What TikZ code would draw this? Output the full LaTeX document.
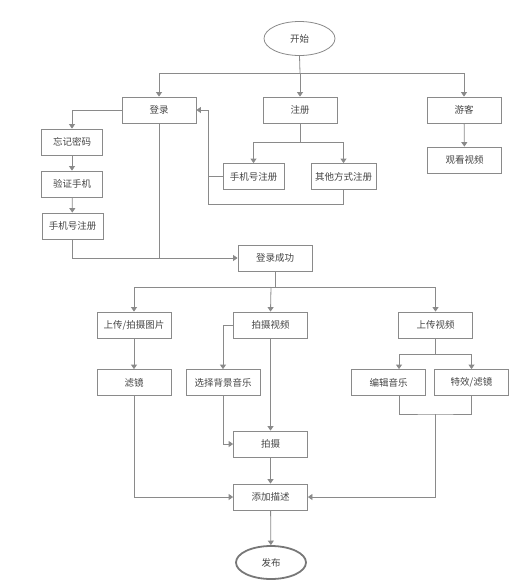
\documentclass[tikz,border=0pt]{standalone}
\usepackage{fontspec}
\newfontfamily\cjk{Noto Sans CJK SC}
\usetikzlibrary{arrows.meta,shapes.geometric,calc}
\definecolor{linec}{HTML}{8A8A8A}
\definecolor{textc}{HTML}{444444}
\definecolor{endc}{HTML}{777777}
\tikzset{
  box/.style={draw=linec, line width=0.8pt, rectangle, minimum width=74pt, minimum height=26pt, inner sep=0pt, text=textc, font=\cjk\fontsize{9.5}{11}\selectfont},
  sbox/.style={box, minimum width=61pt},
  oval/.style={draw=linec, line width=0.8pt, ellipse, minimum width=71pt, minimum height=34pt, inner sep=0pt, text=textc, font=\cjk\fontsize{9.5}{11}\selectfont},
  conn/.style={draw=linec, line width=0.8pt},
  arr/.style={conn, -{Triangle[width=6pt,length=4.5pt]}}
}
\begin{document}
\begin{tikzpicture}[x=1pt,y=-1pt]
\useasboundingbox (0,0) rectangle (509,581);
% nodes
\node[oval] (start) at (299.5,38.5) {开始};
\node[box] (login) at (159,110) {登录};
\node[box] (reg) at (300,110) {注册};
\node[box] (guest) at (464,110) {游客};
\node[sbox] (forget) at (72,142) {忘记密码};
\node[sbox] (verify) at (72,184) {验证手机};
\node[sbox] (preg1) at (72.5,226) {手机号注册};
\node[sbox] (preg2) at (253.5,176.5) {手机号注册};
\node[box, minimum width=65pt] (other) at (343.5,176.5) {其他方式注册};
\node[box] (watch) at (464.5,160) {观看视频};
\node[box] (success) at (275,258) {登录成功};
\node[box] (upic) at (134,325) {上传/拍摄图片};
\node[box] (svid) at (270.5,325) {拍摄视频};
\node[box] (uvid) at (435.5,325) {上传视频};
\node[box] (filter) at (134,382.5) {滤镜};
\node[box] (bgm) at (223,382.5) {选择背景音乐};
\node[box] (emusic) at (388.5,382.5) {编辑音乐};
\node[box] (fx) at (471.5,382.5) {特效/滤镜};
\node[box] (shoot) at (270.5,444) {拍摄};
\node[box] (desc) at (270.5,497) {添加描述};
\node[oval, draw=endc, line width=1.8pt, minimum width=70pt, minimum height=33pt] (pub) at (271,562.5) {发布};
% junctions
\coordinate (j1) at (300,73);
\coordinate (j2) at (300,142);
\coordinate (fb) at (208,204);
\coordinate (j3) at (271,287);
\coordinate (j4) at (435.5,354);
\coordinate (j5) at (435.5,414);
% connectors
\draw[conn] (start.south) -- (j1);
\draw[arr] (j1) -| (login.north);
\draw[arr] (j1) -- (reg.north);
\draw[arr] (j1) -| (guest.north);
\draw[arr] (login.west) -| (forget.north);
\draw[arr] (forget) -- (verify);
\draw[arr] (verify) -- (preg1);
\draw[arr] (preg1.south) |- (success.west);
\draw[conn] (login.south) -- (login.south |- success.west);
\draw[conn] (reg.south) -- (j2);
\draw[arr] (j2) -| (preg2.north);
\draw[arr] (j2) -| (other.north);
\draw[conn] (preg2.west) -| (fb);
\draw[conn] (other.south) |- (fb);
\draw[arr] (fb) |- (login.east);
\draw[arr] (guest) -- (watch);
\draw[conn] (success.south) |- (j3);
\draw[arr] (j3) -| (upic.north);
\draw[arr] (j3) -- (svid.north);
\draw[arr] (j3) -| (uvid.north);
\draw[arr] (upic) -- (filter);
\draw[arr] (svid.west) -| (bgm.north);
\draw[arr] (svid) -- (shoot);
\draw[arr] (bgm.south) |- (shoot.west);
\draw[arr] (shoot) -- (desc);
\draw[arr] (filter.south) |- (desc.west);
\draw[conn] (uvid.south) -- (j4);
\draw[arr] (j4) -| ($(emusic.north)+(10.5,0)$);
\draw[arr] (j4) -| (fx.north);
\draw[conn] ($(emusic.south)+(10.5,0)$) |- (j5) -| (fx.south);
\draw[arr] (j5) |- (desc.east);
\draw[arr] (desc) -- (pub);
\end{tikzpicture}
\end{document}
